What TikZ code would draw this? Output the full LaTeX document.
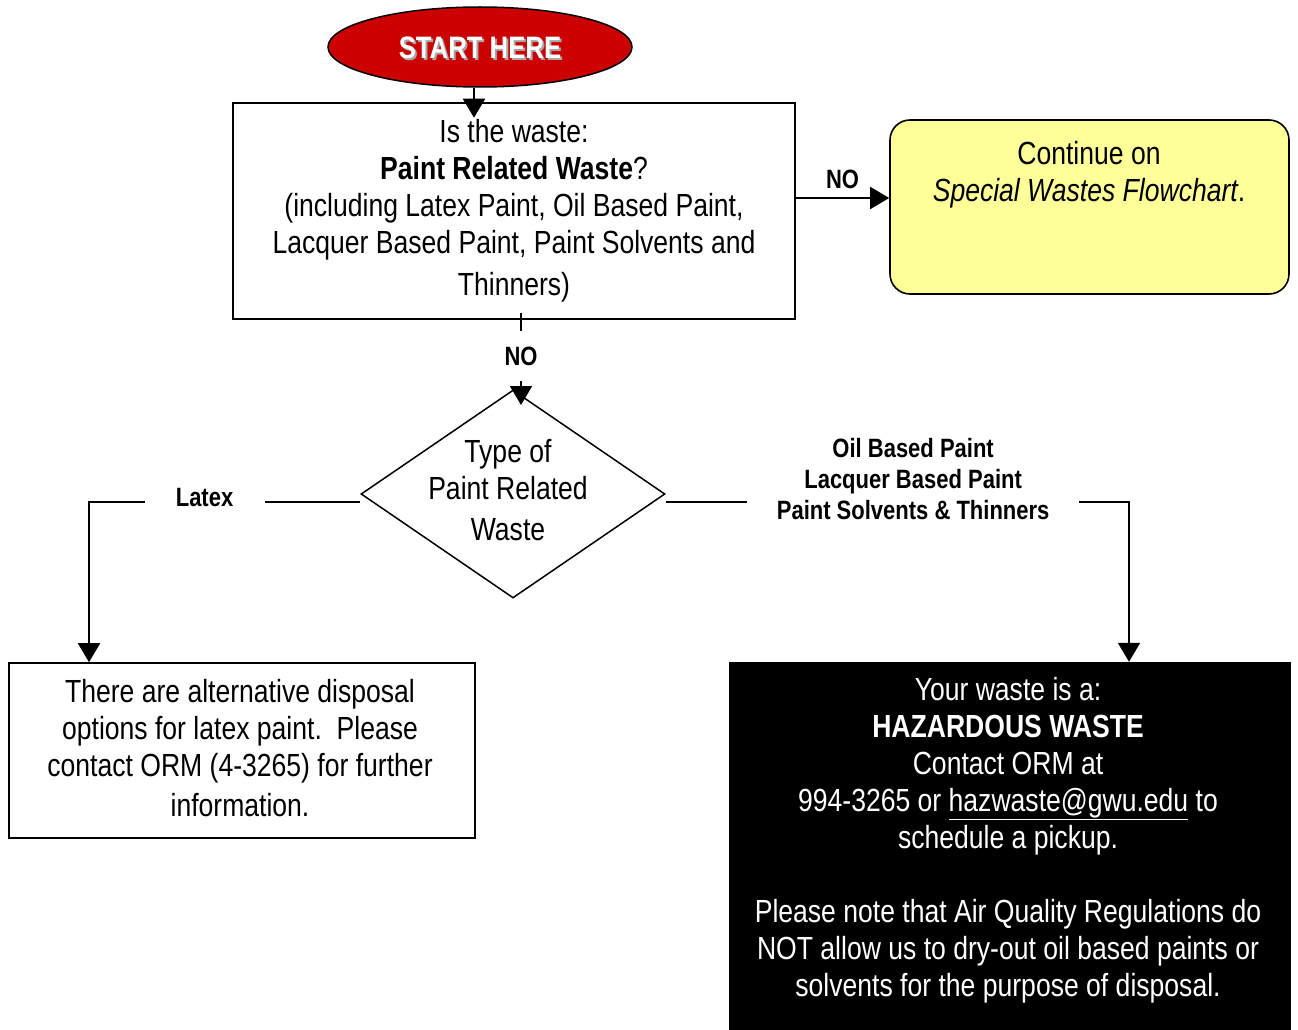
\documentclass[tikz,border=0pt]{standalone}
\usepackage{fontspec}
\setmainfont{Liberation Sans}[FakeStretch=0.83]
\usetikzlibrary{shapes.geometric,arrows.meta}
\definecolor{startred}{HTML}{CC0000}
\definecolor{yellowfill}{HTML}{FFFF99}
\begin{document}
\begin{tikzpicture}[x=1pt,y=-1pt,
  every node/.style={font=\fontsize{32}{37}\selectfont, align=center},
  lbl/.style={font=\fontsize{26.5}{31}\selectfont\bfseries, fill=white},
  arr/.style={line width=2pt, -{Triangle[length=19pt,width=22pt]}},
  box/.style={draw, line width=1.6pt}
]
\useasboundingbox (0,0) rectangle (1298,1030);

% start
\node[ellipse, draw, fill=startred, line width=1.5pt, minimum width=304pt, minimum height=80pt, inner sep=0pt] (start) at (480,47) {};
\node[text=black!35, font=\fontsize{31}{37}\selectfont\bfseries] (startshadow) at (482,50) {START HERE};
\node[text=white, font=\fontsize{31}{37}\selectfont\bfseries] (starttext) at (480,48) {START HERE};

% question box
\node[box, minimum width=562pt, minimum height=216pt] (q1) at (514,211)
  {Is the waste:\\ \textbf{Paint Related Waste}?\\ (including Latex Paint, Oil Based Paint,\\ Lacquer Based Paint, Paint Solvents and\\[5pt] Thinners)};

% continue box
\node[draw, fill=yellowfill, rounded corners=20pt, line width=1.6pt, minimum width=399pt, minimum height=174pt] (cont) at (1089.5,207) {};
\node (conttext) at (1089,175) {Continue on\\ \textit{Special Wastes Flowchart}.};

% diamond
\node[diamond, draw, line width=1.5pt, minimum width=304pt, minimum height=208pt, inner sep=0pt] (type) at (513,494) {};
\node (typetext) at (508,490) {Type of\\ Paint Related\\[4pt] Waste};

% latex box
\node[box, minimum width=466pt, minimum height=175pt] (latexbox) at (242,750.5) {};
\node (latextext) at (240,748)
  {There are alternative disposal\\ options for latex paint.\ \ Please\\ contact ORM (4-3265) for further\\[3pt] information.};

% hazardous box
\node[fill=black, minimum width=562pt, minimum height=380pt] (haz) at (1010,852) {};
\node[text=white] (haztext) at (1008,840)
  {Your waste is a:\\ \textbf{HAZARDOUS WASTE}\\ Contact ORM at\\ 994-3265 or \underline{hazwaste@gwu.edu} to\\ schedule a pickup.\\ ~\\ Please note that Air Quality Regulations do\\ NOT allow us to dry-out oil based paints or\\ solvents for the purpose of disposal.};

% connectors
\draw[arr] ([xshift=-6pt]start.south) -- ++(0,30);
\draw[arr] ([yshift=13pt]q1.east) -- ([yshift=13pt]q1.east -| cont.west)
  node[midway, above=5pt, lbl] {NO};
\draw[arr] ([xshift=7pt,yshift=7pt]q1.south) -- ([xshift=7pt]q1.south |- 0,405)
  node[midway, lbl, minimum height=50pt, yshift=3pt] {NO};
\draw[arr] ([yshift=-8pt]type.west) -| ([xshift=-153pt]latexbox.north)
  node[pos=0.287, lbl, minimum width=120pt, yshift=4pt] {Latex};
\draw[arr] ([yshift=-8pt]type.east) -| ([xshift=119pt]haz.north)
  node[pos=0.267, lbl, yshift=23pt, inner xsep=30pt] {Oil Based Paint\\ Lacquer Based Paint\\ Paint Solvents \& Thinners};
\end{tikzpicture}
\end{document}
